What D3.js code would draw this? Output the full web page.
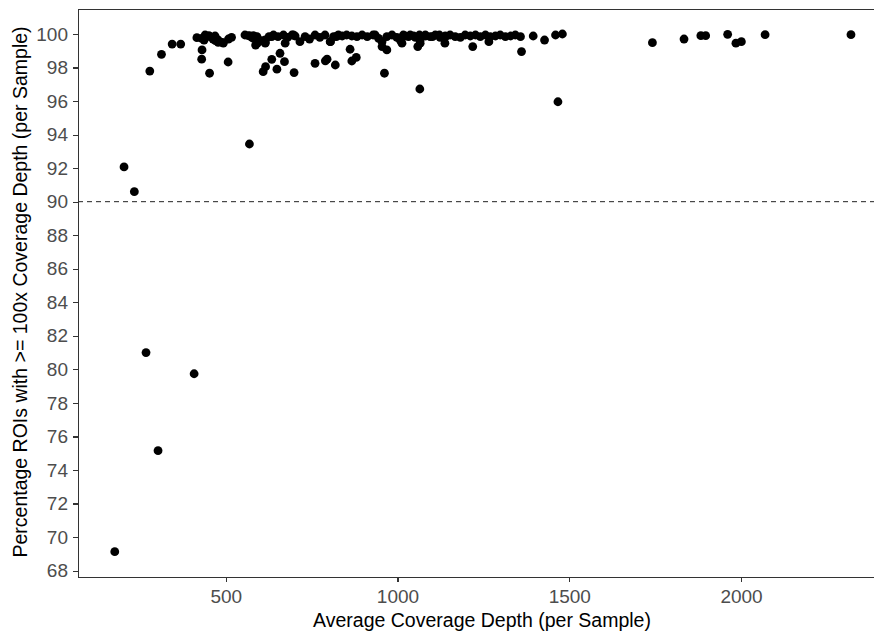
<!DOCTYPE html>
<meta charset="utf-8">
<style>
html,body { margin:0; padding:0; background:#fff; overflow:hidden; }
.tick text { fill:#4d4d4d; font-size:19px; font-family:"Liberation Sans", Arial, sans-serif; }
.axis path, .axis line { stroke:#333; stroke-width:1.1px; shape-rendering:crispEdges; }
.title { font-family:"Liberation Sans", Arial, sans-serif; font-size:19.5px; fill:#000; }
</style>
<body>
<svg></svg>
</body>
<script src="https://cdn.jsdelivr.net/npm/d3@7"></script>
<script>

// average coverage depth per sample
var depth = [177, 204, 234, 268, 279, 303, 313, 344, 369, 408,
  416, 431, 430, 453, 437, 451, 463, 470, 478, 490, 507,
  566, 569, 576, 581, 587, 591, 609, 616, 634, 649, 658, 671, 699, 615, 634, 673, 697,
  760, 790, 795, 819, 862, 867, 880, 962, 1065, 969, 955, 1013, 1059, 1066, 1138, 1219, 1266, 1361, 1395, 1428, 1460, 1480, 1467,
  1742, 1834, 1883, 1897, 1961, 1985, 2001, 2070, 2320,
  430, 440, 454, 469, 478, 493, 508, 517, 556, 571, 581, 592, 605, 615,
  615, 626, 639, 652, 668, 680, 693, 702, 716, 731, 744, 760, 774, 789, 804, 814, 826,
  805, 822, 828, 839, 852, 867, 882, 897, 912, 929, 1017, 1032, 1047, 1064, 1082, 1102, 1122, 1140,
  935, 945, 955, 969, 984, 998, 1008, 1023, 1037, 1052, 1066, 1081, 1095, 1110, 1124, 1139, 1153, 1168, 1183, 1197, 1212, 1227, 1241, 1256, 1270, 1285, 1299, 1314, 1329, 1343, 1358];

// percentage of ROIs with >= 100x coverage
var pct = [69.13, 92.07, 90.6, 81.0, 97.79, 75.15, 98.79, 99.4, 99.4, 79.74,
  99.78, 99.05, 98.5, 97.66, 99.64, 99.9, 99.7, 99.6, 99.5, 99.5, 98.33,
  99.9, 93.44, 99.8, 99.9, 99.34, 99.84, 97.75, 98.05, 98.49, 97.9, 98.85, 98.35, 97.7, 99.45, 99.84, 99.45, 99.94,
  98.25, 98.4, 98.5, 98.15, 99.09, 98.39, 98.6, 97.66, 96.72, 99.05, 99.25, 99.45, 99.25, 99.45, 99.45, 99.25, 99.54, 98.95, 99.88, 99.64, 99.94, 100.0, 95.96,
  99.48, 99.7, 99.9, 99.9, 99.98, 99.45, 99.54, 99.96, 99.96,
  99.74, 99.94, 99.84, 99.88, 99.64, 99.45, 99.7, 99.8, 99.94, 99.88, 99.74, 99.45, 99.6, 99.5,
  99.64, 99.84, 99.94, 99.84, 99.94, 99.8, 99.94, 99.88, 99.54, 99.84, 99.7, 99.94, 99.8, 99.94, 99.54, 99.84, 99.9,
  99.54, 99.84, 99.94, 99.88, 99.94, 99.88, 99.84, 99.94, 99.84, 99.94, 99.94, 99.84, 99.88, 99.94, 99.88, 99.84, 99.94, 99.84,
  99.94, 99.74, 99.54, 99.84, 99.94, 99.8, 99.64, 99.88, 99.94, 99.8, 99.64, 99.94, 99.84, 99.94, 99.8, 99.88, 99.94, 99.84, 99.8, 99.94, 99.88, 99.94, 99.84, 99.94, 99.84, 99.88, 99.94, 99.84, 99.88, 99.94, 99.84];

var xTicks = [500, 1000, 1500, 2000];
var yTicks = d3.range(68, 101, 2);
var threshold = 90;

(function() {
  var W = 874, H = 633;
  var mLeft = 78, mRight = 874, mTop = 9, mBottom = 577;

  var svg = d3.select("svg").attr("width", W).attr("height", H);

  var x = d3.scaleLinear().domain([70, 2387]).range([mLeft, mRight]);
  var y = d3.scaleLinear().domain([67.62, 101.49]).range([mBottom, mTop]);

  // top border
  svg.append("line")
    .attr("x1", mLeft).attr("x2", mRight)
    .attr("y1", mTop + 0.5).attr("y2", mTop + 0.5)
    .attr("stroke", "#333").attr("stroke-width", 1.1);

  // threshold line
  svg.append("line")
    .attr("x1", mLeft).attr("x2", mRight)
    .attr("y1", y(threshold)).attr("y2", y(threshold))
    .attr("stroke", "#222").attr("stroke-width", 1)
    .attr("stroke-dasharray", "5,4");

  svg.selectAll(".pt")
    .data(d3.zip(depth, pct))
    .enter().append("circle")
    .attr("class", "pt")
    .attr("cx", function(d) { return x(d[0]); })
    .attr("cy", function(d) { return y(d[1]); })
    .attr("r", 4.4)
    .attr("fill", "#000");

  svg.append("g")
    .attr("class", "axis")
    .attr("transform", "translate(0," + mBottom + ")")
    .call(d3.axisBottom(x).tickValues(xTicks).tickFormat(d3.format("d"))
      .tickSize(5).tickPadding(8).tickSizeOuter(0));

  svg.append("g")
    .attr("class", "axis")
    .attr("transform", "translate(" + mLeft + ",0)")
    .call(d3.axisLeft(y).tickValues(yTicks).tickSize(5).tickPadding(5).tickSizeOuter(0));

  svg.selectAll(".axis .tick text").attr("fill", "#4d4d4d");

  svg.append("text")
    .attr("class", "title")
    .attr("x", 482)
    .attr("y", 627)
    .attr("text-anchor", "middle")
    .text("Average Coverage Depth (per Sample)");

  svg.append("text")
    .attr("class", "title")
    .attr("transform", "translate(27,292) rotate(-90)")
    .attr("text-anchor", "middle")
    .text("Percentage ROIs with >= 100x Coverage Depth (per Sample)");
})();

</script>
